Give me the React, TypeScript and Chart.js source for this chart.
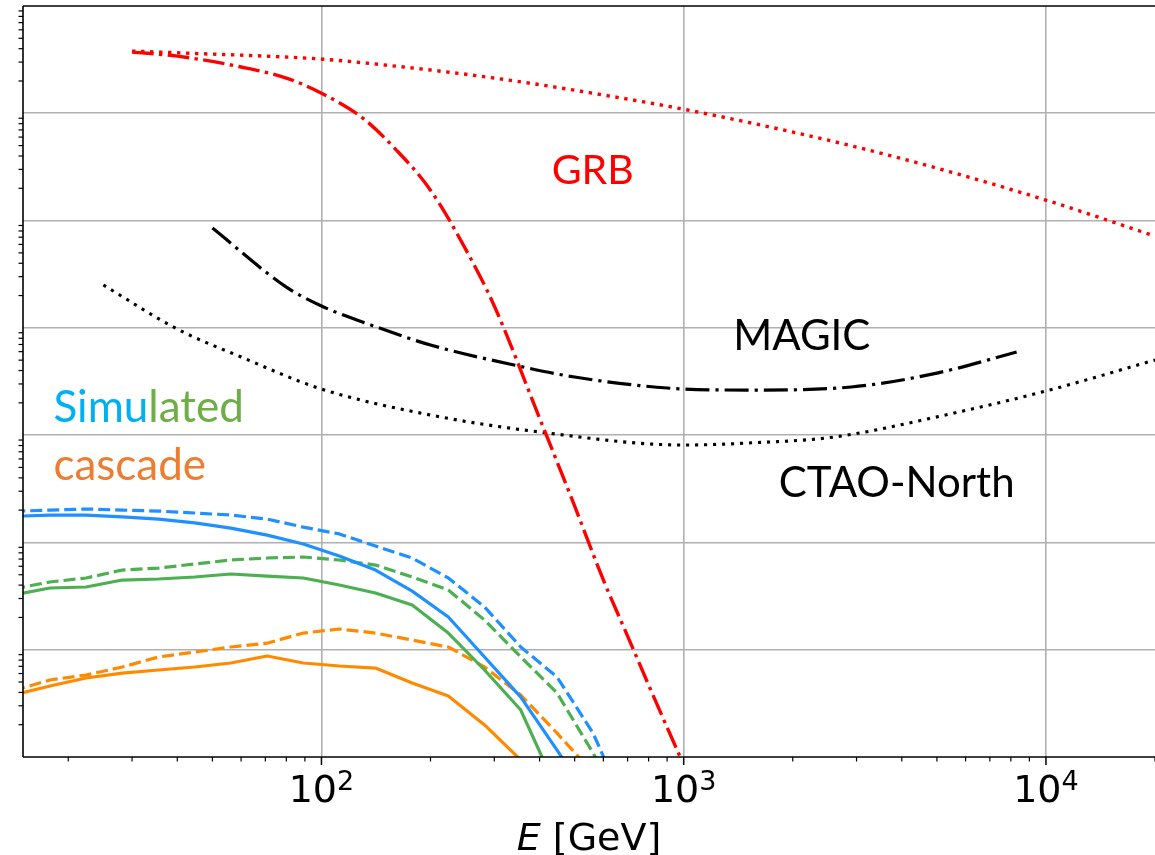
import { useEffect, useRef } from "react";
import { Chart, registerables } from "chart.js";

Chart.register(...registerables);

// Energy bins (GeV) of the simulated cascade spectra
const cascadeEnergy = [14.1, 17.8, 22.4, 28.2, 35.5, 44.7, 56.2, 70.8, 89.1, 112, 141, 178, 224, 282, 355, 447, 562, 708];

const cascadeBlueSolid = [1.75e-12, 1.8e-12, 1.8e-12, 1.73e-12, 1.65e-12, 1.52e-12, 1.36e-12, 1.17e-12, 9.66e-13, 7.47e-13, 5.53e-13, 3.52e-13, 2.02e-13, 8.55e-14, 3.62e-14, 1.16e-14, 3.57e-15];
const cascadeBlueDashed = [1.95e-12, 2.0e-12, 2.05e-12, 2.0e-12, 1.96e-12, 1.88e-12, 1.8e-12, 1.65e-12, 1.39e-12, 1.2e-12, 9.25e-13, 7.16e-13, 4.66e-13, 2.5e-13, 1.06e-13, 5.57e-14, 1.67e-14, 2.88e-15];
const cascadeGreenSolid = [3.24e-13, 3.76e-13, 3.84e-13, 4.46e-13, 4.56e-13, 4.76e-13, 5.08e-13, 4.86e-13, 4.66e-13, 4.01e-13, 3.38e-13, 2.61e-13, 1.43e-13, 6.47e-14, 2.74e-14, 4.92e-15];
const cascadeGreenDashed = [3.68e-13, 4.28e-13, 4.66e-13, 5.53e-13, 5.77e-13, 6.29e-13, 6.86e-13, 7.16e-13, 7.31e-13, 6.86e-13, 6.15e-13, 4.76e-13, 3.6e-13, 1.89e-13, 8.55e-14, 3.95e-14, 1.09e-14, 2.59e-15];
const cascadeOrangeSolid = [3.78e-14, 4.59e-14, 5.45e-14, 6.06e-14, 6.47e-14, 6.9e-14, 7.52e-14, 8.73e-14, 7.52e-14, 7.05e-14, 6.75e-14, 4.9e-14, 3.7e-14, 1.99e-14, 9.38e-15];
const cascadeOrangeDashed = [4.15e-14, 5.22e-14, 5.81e-14, 6.9e-14, 8.55e-14, 9.52e-14, 1.06e-13, 1.15e-13, 1.43e-13, 1.56e-13, 1.43e-13, 1.23e-13, 1.06e-13, 6.9e-14, 3.78e-14, 1.67e-14, 7.1e-15];

// GRB spectrum, intrinsic and after EBL absorption
const grbEnergy = [30, 50, 70, 100, 200, 300, 500, 1000, 2000, 3000, 5000, 10000, 20000];
const grbIntrinsic = [3.8e-8, 3.56e-8, 3.41e-8, 3.2e-8, 2.53e-8, 2.13e-8, 1.64e-8, 1.09e-8, 6.68e-9, 4.84e-9, 3.08e-9, 1.55e-9, 7.17e-10];
const grbAbsorbedEnergy = [30, 40, 60, 80, 100, 130, 160, 200, 250, 300, 400, 500, 600, 700, 800, 1000];
const grbAbsorbed = [3.72e-8, 3.41e-8, 2.7e-8, 2.13e-8, 1.54e-8, 9.02e-9, 4.64e-9, 1.92e-9, 5.42e-10, 1.6e-10, 1.44e-11, 2.18e-12, 4.47e-13, 1.34e-13, 4.69e-14, 8.4e-15];

// Instrument sensitivity curves
const magicEnergy = [50, 80, 100, 150, 200, 350, 500, 900, 1500, 2900, 5000, 8300];
const magicSensitivity = [8.51e-10, 2.4e-10, 1.6e-10, 9.53e-11, 6.92e-11, 4.41e-11, 3.48e-11, 2.75e-11, 2.63e-11, 2.81e-11, 3.79e-11, 5.95e-11];
const ctaoEnergy = [25, 40, 60, 100, 200, 400, 1000, 1500, 2600, 5000, 10000, 20000];
const ctaoSensitivity = [2.51e-10, 9.75e-11, 5.35e-11, 2.69e-11, 1.54e-11, 1.07e-11, 8.09e-12, 8.44e-12, 9.6e-12, 1.48e-11, 2.58e-11, 5.01e-11];

// Axes
const xMin = 15;
const xMax = 20000;
const yMin = 1e-14;
const yMax = 1e-7;
const xMajorTicks = [100, 1000, 10000];
const xTickExponents = ["2", "3", "4"];
const yMajorTicks = [1e-13, 1e-12, 1e-11, 1e-10, 1e-9, 1e-8];

// Text annotations placed in data coordinates
const annotations = [
  { parts: [{ text: "GRB", color: "#ff0000" }], x: 432, y: 2.19e-9, size: 41 },
  { parts: [{ text: "MAGIC", color: "#000000" }], x: 1370, y: 6.21e-11, size: 42 },
  { parts: [{ text: "CTAO-North", color: "#000000" }], x: 1830, y: 2.65e-12, size: 42 },
  { parts: [{ text: "Simu", color: "#00b0f0" }, { text: "lated", color: "#70ad47" }], x: 18.2, y: 1.32e-11, size: 44 },
  { parts: [{ text: "cascade", color: "#ed7d31" }], x: 18.2, y: 3.82e-12, size: 44 },
];

const BLUE = "#1e90ff";
const GREEN = "#4caf50";
const ORANGE = "#ff8a00";

function pairs(xs: number[], ys: number[]) {
  return ys.map((y, i) => ({ x: xs[i], y }));
}

const decorations = {
  id: "decorations",
  afterDraw(chart: any) {
    const { ctx, chartArea: a } = chart;
    const xs = chart.scales.x;
    const ys = chart.scales.y;
    ctx.save();

    const seg = (x1: number, y1: number, x2: number, y2: number) => {
      ctx.beginPath();
      ctx.moveTo(x1, y1);
      ctx.lineTo(x2, y2);
      ctx.stroke();
    };

    // minor ticks on the x axis
    ctx.strokeStyle = "#000";
    ctx.lineWidth = 1.2;
    for (let d = 1; d <= 4; d++) {
      for (let m = 2; m <= 9; m++) {
        const v = m * Math.pow(10, d);
        if (v < xMin || v > xMax) continue;
        const px = xs.getPixelForValue(v);
        seg(px, a.bottom, px, a.bottom + 4.5);
      }
    }
    // major ticks on the x axis
    ctx.lineWidth = 1.5;
    for (const v of xMajorTicks) {
      const px = xs.getPixelForValue(v);
      seg(px, a.bottom, px, a.bottom + 8);
    }
    // minor ticks on the y axis
    ctx.lineWidth = 1.2;
    for (let d = -14; d <= -8; d++) {
      for (let m = 2; m <= 9; m++) {
        const v = m * Math.pow(10, d);
        if (v < yMin || v > yMax) continue;
        const py = ys.getPixelForValue(v);
        seg(a.left - 4.5, py, a.left, py);
      }
    }

    // spines
    ctx.lineWidth = 1.6;
    seg(a.left, a.top, a.right + 2, a.top);
    seg(a.left, a.top, a.left, a.bottom);
    seg(a.left, a.bottom, a.right + 2, a.bottom);

    // x tick labels: 10 with a superscript exponent
    ctx.fillStyle = "#000";
    ctx.textAlign = "left";
    ctx.textBaseline = "alphabetic";
    xMajorTicks.forEach((v, i) => {
      const px = xs.getPixelForValue(v);
      ctx.font = '38px "DejaVu Sans"';
      const wBase = ctx.measureText("10").width;
      ctx.font = '27px "DejaVu Sans"';
      const wSup = ctx.measureText(xTickExponents[i]).width;
      const x0 = px - (wBase + wSup) / 2;
      ctx.font = '38px "DejaVu Sans"';
      ctx.fillText("10", x0, a.bottom + 45);
      ctx.font = '27px "DejaVu Sans"';
      ctx.fillText(xTickExponents[i], x0 + wBase, a.bottom + 33);
    });

    // x axis title
    ctx.font = 'italic 38px "DejaVu Sans"';
    const wE = ctx.measureText("E").width;
    ctx.font = '38px "DejaVu Sans"';
    const wRest = ctx.measureText(" [GeV]").width;
    const tx = (a.left + a.right) / 2 - (wE + wRest) / 2;
    ctx.font = 'italic 38px "DejaVu Sans"';
    ctx.fillText("E", tx, a.bottom + 93);
    ctx.font = '38px "DejaVu Sans"';
    ctx.fillText(" [GeV]", tx + wE, a.bottom + 93);

    // annotations
    for (const ann of annotations) {
      let x = xs.getPixelForValue(ann.x);
      const y = ys.getPixelForValue(ann.y);
      ctx.font = `${ann.size}px Lato`;
      for (const p of ann.parts) {
        ctx.fillStyle = p.color;
        ctx.fillText(p.text, x, y);
        x += ctx.measureText(p.text).width;
      }
    }
    ctx.restore();
  },
};

export default function App() {
  const canvasRef = useRef<HTMLCanvasElement>(null);

  useEffect(() => {
    const canvas = canvasRef.current;
    if (!canvas) return;

    const line = (data: { x: number; y: number }[], color: string, width: number, dash: number[], smooth: boolean) => ({
      data,
      borderColor: color,
      borderWidth: width,
      borderDash: dash,
      borderCapStyle: "butt" as const,
      borderJoinStyle: "round" as const,
      pointRadius: 0,
      fill: false,
      tension: 0,
      cubicInterpolationMode: smooth ? ("monotone" as const) : ("default" as const),
      clip: 0,
    });

    const chart = new Chart(canvas, {
      type: "line",
      data: {
        datasets: [
          line(pairs(grbAbsorbedEnergy, grbAbsorbed), "#ff0000", 3.4, [21.6, 5.4, 3.4, 5.4], true),
          line(pairs(grbEnergy, grbIntrinsic), "#ff0000", 3.4, [3.4, 5.6], true),
          line(pairs(magicEnergy, magicSensitivity), "#000000", 3.2, [24, 6, 3.2, 6], true),
          line(pairs(ctaoEnergy, ctaoSensitivity), "#000000", 3.1, [3.1, 5.9], true),
          line(pairs(cascadeEnergy, cascadeBlueSolid), BLUE, 3.2, [], false),
          line(pairs(cascadeEnergy, cascadeBlueDashed), BLUE, 3.2, [12, 5], false),
          line(pairs(cascadeEnergy, cascadeGreenSolid), GREEN, 3.2, [], false),
          line(pairs(cascadeEnergy, cascadeGreenDashed), GREEN, 3.2, [12, 5], false),
          line(pairs(cascadeEnergy, cascadeOrangeSolid), ORANGE, 3.2, [], false),
          line(pairs(cascadeEnergy, cascadeOrangeDashed), ORANGE, 3.2, [12, 5], false),
        ],
      },
      options: {
        responsive: false,
        animation: false,
        events: [],
        layout: { padding: { left: 23, top: 6, right: 0, bottom: 98 } },
        plugins: { legend: { display: false }, tooltip: { enabled: false } },
        scales: {
          x: {
            type: "logarithmic",
            min: xMin,
            max: xMax,
            ticks: { display: false },
            grid: { color: "#b0b0b0", lineWidth: 1.6, drawTicks: false },
            border: { display: false },
            afterBuildTicks: (scale: any) => {
              scale.ticks = xMajorTicks.map((value) => ({ value }));
            },
          },
          y: {
            type: "logarithmic",
            min: yMin,
            max: yMax,
            ticks: { display: false },
            grid: { color: "#b0b0b0", lineWidth: 1.6, drawTicks: false },
            border: { display: false },
            afterBuildTicks: (scale: any) => {
              scale.ticks = yMajorTicks.map((value) => ({ value }));
            },
          },
        },
      },
      plugins: [decorations],
    } as any);

    return () => chart.destroy();
  }, []);

  return (
    <div style={{ position: "fixed", left: 0, top: 0, width: 1155, height: 855, background: "#ffffff" }}>
      <canvas ref={canvasRef} width={1155} height={855} style={{ display: "block", width: 1155, height: 855 }} />
    </div>
  );
}
